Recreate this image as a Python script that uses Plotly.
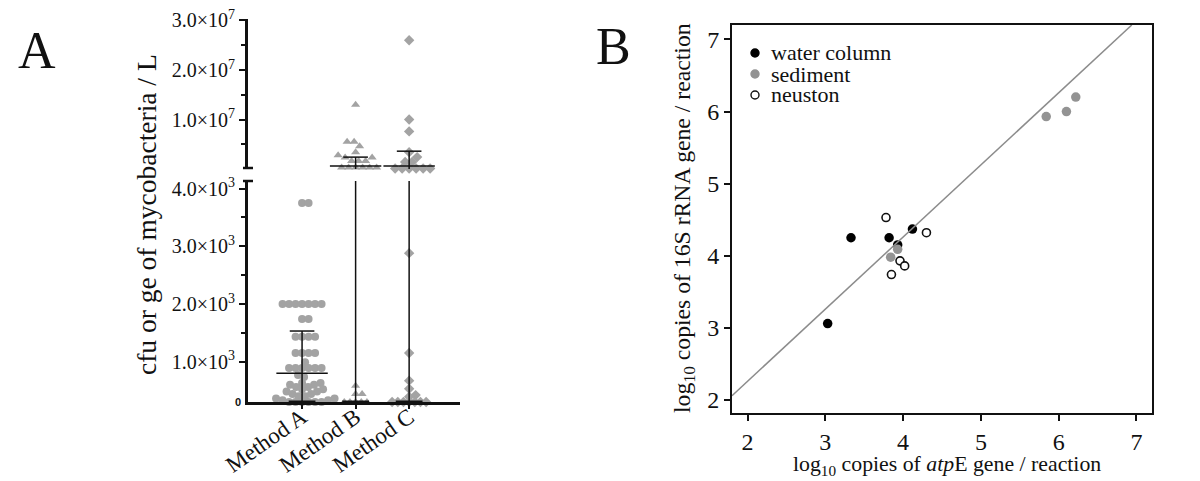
import plotly.graph_objects as go

# page body has an 8px margin: the figure starts 8px in and is sized to reach the window edges
PAD = 8
W, H = 1200 - 2 * PAD, 481 - PAD
FONT = "Liberation Serif"
GRAY = "#a3a3a3"

# ---------------- Panel A data ----------------
methods = ["Method A", "Method B", "Method C"]
method_a = [3750, 3750, 2000, 2000, 2000, 2000, 2000, 2000, 2000, 1740, 1740,
            1430, 1430, 1430, 1430, 1150, 1150, 1150, 1150, 990, 890, 890, 890, 890,
            890, 890, 770, 735, 630, 630, 600, 600, 560, 560, 520, 520, 480, 480,
            440, 440, 400, 400, 360, 360, 330, 330,
            0, 0, 0, 0, 0, 0]
method_b = [13000000, 5500000, 5500000, 4600000, 3400000, 2800000, 2300000, 2300000,
            1600000, 1600000, 1600000, 300000, 300000, 300000, 300000, 300000, 300000,
            580, 440, 440, 0, 0, 0, 0, 0]
method_c = [26000000, 10000000, 7600000, 3400000, 2400000, 1400000, 1400000,
            100000, 100000, 100000, 100000, 100000, 100000,
            2880, 1150, 670, 530, 420, 390, 0, 0, 0, 0, 0, 0, 0]
means = [800, 600000, 600000]
sd_upper = [1530, 2400000, 3600000]
lower_min, lower_max = 300, 4130     # lower (broken) axis segment; zeros sit on its baseline
upper_max = 30300000

lower_ticks = [1000, 2000, 3000, 4000]
lower_labels = ["1.0×10<sup>3</sup>", "2.0×10<sup>3</sup>", "3.0×10<sup>3</sup>", "4.0×10<sup>3</sup>"]
upper_ticks = [10000000, 20000000, 30000000]
upper_labels = ["1.0×10<sup>7</sup>", "2.0×10<sup>7</sup>", "3.0×10<sup>7</sup>"]

# ---------------- Panel B data ----------------
water_x = [3.03, 3.33, 3.82, 3.93, 4.12]
water_y = [3.06, 4.25, 4.25, 4.15, 4.37]
sediment_x = [3.84, 3.93, 5.84, 6.10, 6.22]
sediment_y = [3.98, 4.09, 5.93, 6.00, 6.20]
neuston_x = [3.78, 4.30, 3.96, 4.02, 3.85]
neuston_y = [4.53, 4.32, 3.93, 3.86, 3.74]
fit_slope, fit_intercept = 1.0, 0.26
b_ticks = [2, 3, 4, 5, 6, 7]

# ---------------- layout geometry (screen pixels) ----------------
A_X0, A_X1 = 248, 460
A_XR = [-1.01, 2.95]
A_LOW = (402, 181)
A_UP = (169, 19)
B_X0, B_X1 = 732, 1152
B_Y0, B_Y1 = 413, 25
B_R = [1.8, 7.2]
B_YR = [1.82, 7.2]


def fx(px):
    return (px - PAD) / W


def fy(py):
    return (H - (py - PAD)) / H


x_ppu = (A_X1 - A_X0) / (A_XR[1] - A_XR[0])
low_ppu = (A_LOW[0] - A_LOW[1]) / (lower_max - lower_min)
up_ppu = (A_UP[0] - A_UP[1]) / upper_max


def swarm(vals, ppu, diam, band_zero):
    """simple beeswarm layout: horizontal pixel offsets for each value"""
    order = sorted(range(len(vals)), key=lambda i: vals[i])
    offs = [0.0] * len(vals)
    if band_zero:
        z = [i for i in order if vals[i] == 0]
        for k, i in enumerate(z):
            offs[i] = (k - (len(z) - 1) / 2) * (diam * 0.9)
    cands = [0.0]
    s = 0.5
    while s < 90:
        cands += [s, -s]
        s += 0.5
    placed = []
    for i in order:
        if band_zero and vals[i] == 0:
            continue
        y = vals[i] * ppu
        chosen = 0.0
        for c in cands:
            if all((c - px) ** 2 + (y - py) ** 2 >= diam ** 2 - 1e-9 for px, py in placed):
                chosen = c
                break
        offs[i] = chosen
        placed.append((chosen, y))
    return offs


fig = go.Figure()
symbols = ["circle", "triangle-up", "diamond"]
series = [method_a, method_b, method_c]
for idx, vals in enumerate(series):
    low = [max(v, lower_min) for v in vals if v <= lower_max]
    up = [v for v in vals if v > lower_max]
    band = idx > 0
    lo_off = swarm([v - lower_min for v in low], low_ppu, 6.3, band)
    up_off = swarm(up, up_ppu, 7, False)
    fig.add_trace(go.Scatter(x=[idx + o / x_ppu for o in lo_off], y=low, mode="markers",
                             marker=dict(symbol=symbols[idx], size=8, color=GRAY),
                             xaxis="x", yaxis="y", cliponaxis=False, showlegend=False))
    if up:
        fig.add_trace(go.Scatter(x=[idx + o / x_ppu for o in up_off], y=up, mode="markers",
                                 marker=dict(symbol=symbols[idx], size=8, color=GRAY),
                                 xaxis="x", yaxis="y2", cliponaxis=False, showlegend=False))


def seg(x0, x1, y0, y1, ya, w=1.5):
    fig.add_trace(go.Scatter(x=[x0, x1], y=[y0, y1], mode="lines", line=dict(color="#111", width=w),
                             xaxis="x", yaxis=ya, cliponaxis=False, showlegend=False, hoverinfo="skip"))


for idx in range(3):
    m, sd = means[idx], sd_upper[idx]
    ya = "y" if m <= lower_max else "y2"
    seg(idx - 0.48, idx + 0.48, m, m, ya)
    if sd <= lower_max:
        seg(idx, idx, lower_min, sd, "y")
        seg(idx - 0.23, idx + 0.23, sd, sd, "y")
    else:
        seg(idx, idx, lower_min, lower_max, "y")
        seg(idx, idx, 0, sd, "y2")
        seg(idx - 0.23, idx + 0.23, sd, sd, "y2")
    seg(idx - 0.25, idx + 0.25, lower_min, lower_min, "y", w=3)

# ---------------- Panel B traces ----------------
fig.add_trace(go.Scatter(x=water_x, y=water_y, mode="markers", xaxis="x3", yaxis="y3",
                         marker=dict(size=9.5, color="#000"), showlegend=False))
fig.add_trace(go.Scatter(x=sediment_x, y=sediment_y, mode="markers", xaxis="x3", yaxis="y3",
                         marker=dict(size=9.5, color="#939393"), showlegend=False))
fig.add_trace(go.Scatter(x=neuston_x, y=neuston_y, mode="markers", xaxis="x3", yaxis="y3",
                         marker=dict(size=8, color="white", line=dict(color="#111", width=1.6)),
                         showlegend=False))
fx0 = B_R[0]
fx1 = (B_YR[1] - fit_intercept) / fit_slope
fig.add_trace(go.Scatter(x=[fx0, fx1], y=[fit_slope * fx0 + fit_intercept, fit_slope * fx1 + fit_intercept],
                         mode="lines", line=dict(color="#8c8c8c", width=1.5), xaxis="x3", yaxis="y3",
                         showlegend=False, hoverinfo="skip"))

tickfont_a = dict(family=FONT, size=20, color="#111")
tickfont_b = dict(family=FONT, size=24, color="#111")

fig.update_layout(
    width=W, height=H, margin=dict(l=0, r=0, t=0, b=0, autoexpand=False),
    paper_bgcolor="white", plot_bgcolor="rgba(0,0,0,0)",
    xaxis=dict(domain=[fx(A_X0), fx(A_X1)], range=A_XR, anchor="y", showgrid=False, zeroline=False,
               automargin=False, ticklabeloverflow="allow",
               showline=True, linecolor="#111", linewidth=2.5, ticks="outside", ticklen=4, tickwidth=1.5,
               tickcolor="#111", tickvals=[0, 1, 2], ticktext=methods, tickangle=-35,
               ticklabelstandoff=-14,
               tickfont=dict(family=FONT, size=23, color="#111")),
    yaxis=dict(domain=[fy(A_LOW[0]), fy(A_LOW[1])], range=[lower_min, lower_max], anchor="x", showgrid=False,
               automargin=False, ticklabeloverflow="allow",
               zeroline=False, showline=True, linecolor="#111", linewidth=3, ticks="outside", ticklen=6,
               tickwidth=2, tickcolor="#111", tickvals=lower_ticks, ticktext=lower_labels, tickfont=tickfont_a,
               minor=dict(tickvals=[1500, 2500, 3500], ticks="outside", ticklen=4, tickwidth=2,
                          tickcolor="#111")),
    yaxis2=dict(domain=[fy(A_UP[0]), fy(A_UP[1])], range=[0, upper_max], anchor="x", showgrid=False,
                automargin=False, ticklabeloverflow="allow",
                zeroline=False, showline=True, linecolor="#111", linewidth=3, ticks="outside", ticklen=6,
                tickwidth=2, tickcolor="#111", tickvals=upper_ticks, ticktext=upper_labels, tickfont=tickfont_a,
                minor=dict(tickvals=[5000000, 15000000, 25000000], ticks="outside", ticklen=4, tickwidth=2,
                           tickcolor="#111")),
    xaxis3=dict(domain=[fx(B_X0), fx(B_X1)], range=B_R, anchor="y3", showgrid=False, zeroline=False,
                automargin=False, ticklabeloverflow="allow",
                showline=True, mirror=True, linecolor="#111", linewidth=2, ticks="outside", ticklen=6,
                tickwidth=1.5, tickcolor="#111", tickvals=b_ticks, tickfont=tickfont_b),
    yaxis3=dict(domain=[fy(B_Y0), fy(B_Y1)], range=B_YR, anchor="x3", showgrid=False, zeroline=False,
                automargin=False, ticklabeloverflow="allow",
                showline=True, mirror=True, linecolor="#111", linewidth=2, ticks="outside", ticklen=6,
                tickwidth=1.5, tickcolor="#111", tickvals=b_ticks, tickfont=tickfont_b),
)

# axis break caps
for py in (A_UP[0] - 1, A_LOW[1]):
    fig.add_shape(type="line", xref="paper", yref="paper", x0=fx(A_X0 - 5), x1=fx(A_X0 + 5),
                  y0=fy(py), y1=fy(py), line=dict(color="#111", width=2.5))

ann = []
ann.append(dict(text="A", x=fx(37), y=fy(50), font=dict(family=FONT, size=52, color="#111")))
ann.append(dict(text="B", x=fx(613), y=fy(46), font=dict(family=FONT, size=52, color="#111")))
ann.append(dict(text="<b>0</b>", x=fx(243), y=fy(402), xanchor="right",
                font=dict(family="Liberation Sans", size=11, color="#111")))
ann.append(dict(text="cfu or ge of mycobacteria / L", x=fx(147), y=fy(215), textangle=-90,
                font=dict(family=FONT, size=27.5, color="#111")))
ann.append(dict(text="log<sub>10</sub> copies of 16S rRNA gene / reaction", x=fx(684), y=fy(218),
                textangle=-90, font=dict(family=FONT, size=23.7, color="#111")))
ann.append(dict(text="log<sub>10</sub> copies of <i>atp</i>E gene / reaction", x=fx(947), y=fy(465),
                font=dict(family=FONT, size=21.8, color="#111")))

legend_items = [("water column", "#000", "#000"), ("sediment", "#939393", "#939393"), ("neuston", "white", "#111")]
for k, (name, fill, edge) in enumerate(legend_items):
    cy = 53 + 21 * k
    fig.add_shape(type="circle", xref="paper", yref="paper", x0=fx(751), x1=fx(759),
                  y0=fy(cy + 4), y1=fy(cy - 4), fillcolor=fill, line=dict(color=edge, width=1.4))
    ann.append(dict(text=name, x=fx(769), y=fy(cy), xanchor="left",
                    font=dict(family=FONT, size=22, color="#111")))

for a in ann:
    a.setdefault("xanchor", "center")
    a.update(xref="paper", yref="paper", showarrow=False, yanchor="middle")
    fig.add_annotation(**a)

fig.write_html("out.html")
